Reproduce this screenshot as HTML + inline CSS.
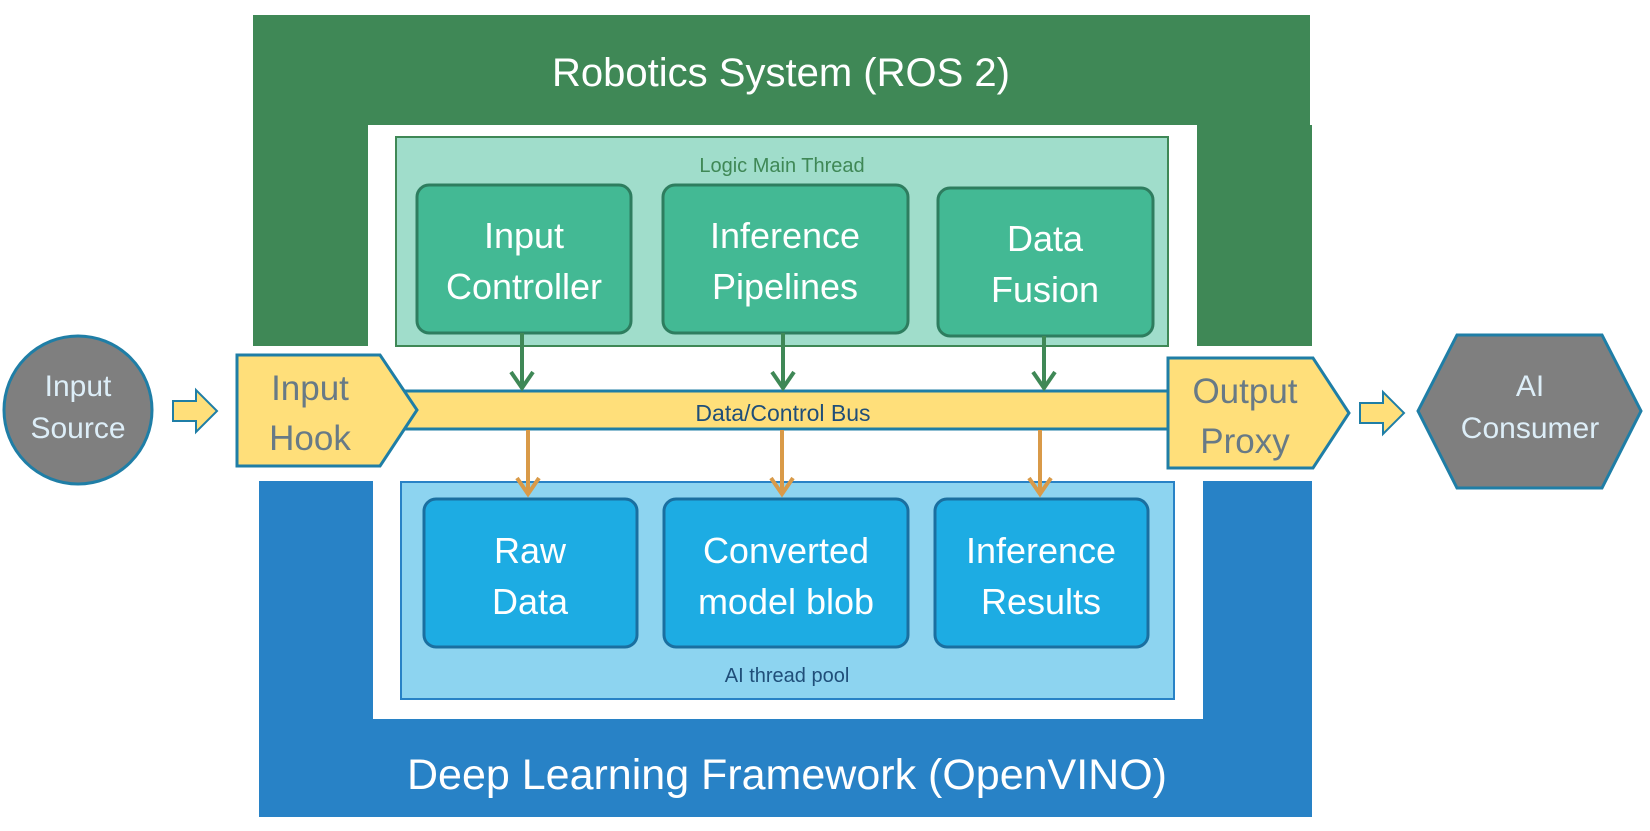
<!DOCTYPE html>
<html><head><meta charset="utf-8"><style>
html,body{margin:0;padding:0;background:#fff;}
svg{display:block;font-family:"Liberation Sans",sans-serif;}
</style></head><body>
<svg width="1650" height="831" viewBox="0 0 1650 831" xmlns="http://www.w3.org/2000/svg">
<!-- Green outer -->
<path d="M253 15 H1310 V125 H1312 V346 H1197 V125 H368 V346 H253 Z" fill="#3F8856"/>
<text x="781" y="86" font-size="40" fill="#fff" text-anchor="middle">Robotics System (ROS 2)</text>
<!-- light green -->
<rect x="396" y="137" width="772" height="209" fill="#A0DDCB" stroke="#3F8856" stroke-width="2"/>
<text x="782" y="172" font-size="20" fill="#3F8856" text-anchor="middle">Logic Main Thread</text>
<g fill="#43B994" stroke="#2E7D5F" stroke-width="3">
<rect x="417" y="185" width="214" height="148" rx="12"/>
<rect x="663" y="185" width="245" height="148" rx="12"/>
<rect x="938" y="188" width="215" height="148" rx="12"/>
</g>
<g font-size="36" fill="#fff" text-anchor="middle">
<text x="524" y="248">Input</text><text x="524" y="299">Controller</text>
<text x="785" y="248">Inference</text><text x="785" y="299">Pipelines</text>
<text x="1045" y="251">Data</text><text x="1045" y="302">Fusion</text>
</g>
<!-- Blue outer -->
<path d="M259 481 H373 V719 H1203 V481 H1312 V817 H259 Z" fill="#2882C6"/>
<text x="787" y="789" font-size="43" fill="#fff" text-anchor="middle">Deep Learning Framework (OpenVINO)</text>
<rect x="401" y="482" width="773" height="217" fill="#8DD4F0" stroke="#2882C6" stroke-width="2"/>
<g fill="#1DACE3" stroke="#1A6FA0" stroke-width="3">
<rect x="424" y="499" width="213" height="148" rx="12"/>
<rect x="664" y="499" width="244" height="148" rx="12"/>
<rect x="935" y="499" width="213" height="148" rx="12"/>
</g>
<g font-size="36" fill="#fff" text-anchor="middle">
<text x="530" y="563">Raw</text><text x="530" y="614">Data</text>
<text x="786" y="563">Converted</text><text x="786" y="614">model blob</text>
<text x="1041" y="563">Inference</text><text x="1041" y="614">Results</text>
</g>
<text x="787" y="682" font-size="20" fill="#1F4E79" text-anchor="middle">AI thread pool</text>
<!-- Bus -->
<rect x="380" y="391" width="800" height="38" fill="#FFDF7A" stroke="#1F7EA6" stroke-width="3"/>
<text x="783" y="421" font-size="23" fill="#1F4E79" text-anchor="middle">Data/Control Bus</text>
<!-- Hook -->
<polygon points="237,355 380,355 417,410 380,466 237,466" fill="#FFDF7A" stroke="#1F7EA6" stroke-width="3"/>
<text x="310" y="400" font-size="35" fill="#687A86" text-anchor="middle">Input</text>
<text x="310" y="450" font-size="35" fill="#687A86" text-anchor="middle">Hook</text>
<!-- Proxy -->
<polygon points="1168,358 1313,358 1349,413 1313,468 1168,468" fill="#FFDF7A" stroke="#1F7EA6" stroke-width="3"/>
<text x="1245" y="403" font-size="35" fill="#687A86" text-anchor="middle">Output</text>
<text x="1245" y="453" font-size="35" fill="#687A86" text-anchor="middle">Proxy</text>
<!-- green arrows -->
<g stroke="#3F8856" stroke-width="4" fill="none">
<path d="M522 333 V388 M511 372 L522 388 L533 372"/>
<path d="M783 333 V388 M772 372 L783 388 L794 372"/>
<path d="M1044 336 V388 M1033 372 L1044 388 L1055 372"/>
</g>
<g stroke="#D99A48" stroke-width="4" fill="none">
<path d="M528 430 V494 M517 478 L528 494 L539 478"/>
<path d="M782 430 V494 M771 478 L782 494 L793 478"/>
<path d="M1040 430 V494 M1029 478 L1040 494 L1051 478"/>
</g>
<!-- input source -->
<circle cx="78" cy="410" r="74" fill="#7F7F7F" stroke="#1F7EA6" stroke-width="3"/>
<text x="78" y="396" font-size="30" fill="#DDEEF8" text-anchor="middle">Input</text>
<text x="78" y="438" font-size="30" fill="#DDEEF8" text-anchor="middle">Source</text>
<polygon points="173,401 196,401 196,390 217,411 196,432 196,421 173,421" fill="#FFDF7A" stroke="#1F7EA6" stroke-width="2"/>
<polygon points="1360,403 1383,403 1383,392 1404,413 1383,434 1383,423 1360,423" fill="#FFDF7A" stroke="#1F7EA6" stroke-width="2"/>
<!-- hexagon -->
<polygon points="1457,335 1602,335 1641,411 1602,488 1457,488 1418,411" fill="#7F7F7F" stroke="#1F7EA6" stroke-width="3"/>
<text x="1530" y="396" font-size="30" fill="#DDEEF8" text-anchor="middle">AI</text>
<text x="1530" y="438" font-size="30" fill="#DDEEF8" text-anchor="middle">Consumer</text>
</svg>
</body></html>
